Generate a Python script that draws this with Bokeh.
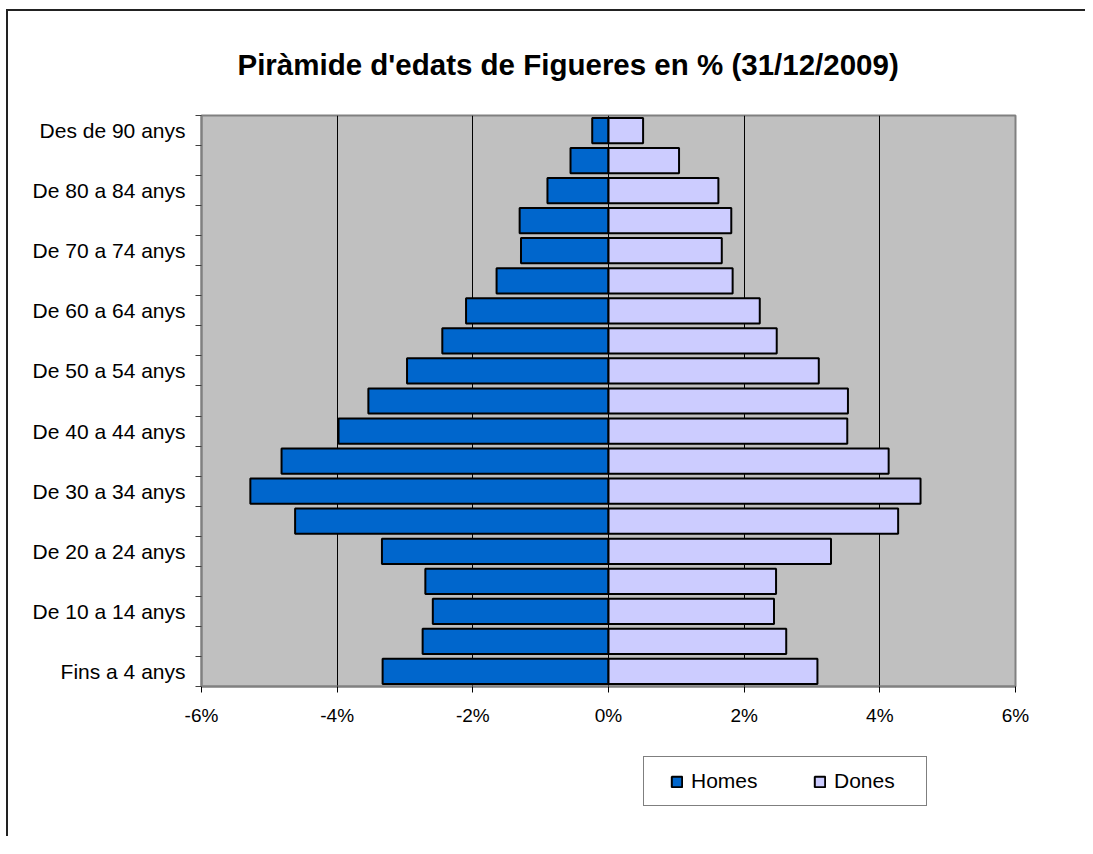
from bokeh.plotting import figure
from bokeh.layouts import column
from bokeh.models import (FixedTicker, PrintfTickFormatter, Legend, LegendItem,
                          ColumnDataSource)
from bokeh.embed import file_html
from bokeh.resources import INLINE

age_groups = [
    "Fins a 4 anys", "De 5 a 9 anys", "De 10 a 14 anys", "De 15 a 19 anys",
    "De 20 a 24 anys", "De 25 a 29 anys", "De 30 a 34 anys", "De 35 a 39 anys",
    "De 40 a 44 anys", "De 45 a 49 anys", "De 50 a 54 anys", "De 55 a 59 anys",
    "De 60 a 64 anys", "De 65 a 69 anys", "De 70 a 74 anys", "De 75 a 79 anys",
    "De 80 a 84 anys", "De 85 a 89 anys", "Des de 90 anys",
]
homes = [3.33, 2.74, 2.59, 2.70, 3.34, 4.62, 5.28, 4.82, 3.98, 3.54,
         2.97, 2.45, 2.10, 1.65, 1.29, 1.31, 0.90, 0.56, 0.24]
dones = [3.08, 2.62, 2.44, 2.47, 3.28, 4.27, 4.60, 4.13, 3.52, 3.53,
         3.10, 2.48, 2.23, 1.83, 1.67, 1.81, 1.62, 1.04, 0.51]
x_ticks = [-6, -4, -2, 0, 2, 4, 6]
series_names = ["Homes", "Dones"]
series_colors = ["#0066CC", "#CCCCFF"]
title_text = "Piràmide d'edats de Figueres en % (31/12/2009)"

FONT = "Liberation Sans"

idx = list(range(len(age_groups)))
neg_homes = [-v for v in homes]
src = ColumnDataSource(dict(y=idx, homes=neg_homes, dones=dones, zero=[0] * len(idx)))

p = figure(width=1077, height=725, x_range=(-6, 6), y_range=(-0.5, len(age_groups) - 0.5),
           output_backend="svg", toolbar_location=None,
           min_border_left=193, min_border_right=70, min_border_top=104, min_border_bottom=50)

p.title.text = title_text
p.title.align = "left"
p.title.offset = 36
p.title.text_font = FONT
p.title.text_font_size = "29.5px"
p.title.text_font_style = "bold"
p.title.text_color = "black"
p.title.standoff = 69

p.background_fill_color = "#C0C0C0"
p.border_fill_color = "white"
p.outline_line_color = "#808080"
p.outline_line_width = 2

r_h = p.hbar(y="y", left="homes", right="zero", height=0.84, source=src,
             fill_color=series_colors[0], line_color="black", line_width=2)
r_d = p.hbar(y="y", left="zero", right="dones", height=0.84, source=src,
             fill_color=series_colors[1], line_color="black", line_width=2)

# x axis
p.xaxis.ticker = FixedTicker(ticks=x_ticks)
p.xaxis.formatter = PrintfTickFormatter(format="%d%%")
p.xaxis.major_label_text_font = FONT
p.xaxis.major_label_text_font_size = "19px"
p.xaxis.major_label_text_color = "black"
p.xaxis.major_tick_in = 0
p.xaxis.major_tick_out = 6
p.xaxis.major_tick_line_color = "black"
p.xaxis.minor_tick_line_color = None
p.xaxis.axis_line_color = "#808080"
p.xaxis.axis_line_width = 2
p.xaxis.major_label_standoff = 12

# y axis
label_ticks = idx[::2]
p.yaxis.ticker = FixedTicker(ticks=label_ticks,
                             minor_ticks=[i - 0.5 for i in idx] + [idx[-1] + 0.5])
p.yaxis.major_label_overrides = {i: age_groups[i] for i in label_ticks}
p.yaxis.major_label_text_font = FONT
p.yaxis.major_label_text_font_size = "21px"
p.yaxis.major_label_text_color = "black"
p.yaxis.major_tick_in = 0
p.yaxis.major_tick_out = 0
p.yaxis.minor_tick_in = 0
p.yaxis.minor_tick_out = 6
p.yaxis.minor_tick_line_color = "#404040"
p.yaxis.axis_line_color = "#808080"
p.yaxis.axis_line_width = 2
p.yaxis.major_label_standoff = 10

p.xgrid.ticker = FixedTicker(ticks=x_ticks)
p.xgrid.grid_line_color = "black"
p.xgrid.grid_line_width = 1
p.ygrid.visible = False

# legend strip below the chart; its renderers hold a single NaN row (nothing drawn)
nan = float("nan")
legend_src = ColumnDataSource(dict(y=[nan], left=[nan], right=[nan]))
lf = figure(width=1077, height=100, x_range=(-6, 6), y_range=(0, 1),
            output_backend="svg", toolbar_location=None,
            min_border=0, min_border_left=0, min_border_right=0,
            min_border_top=0, min_border_bottom=0)
lf.axis.visible = False
lf.grid.visible = False
lf.outline_line_color = None
lf.background_fill_color = "white"
lf.border_fill_color = "white"
lg_h = lf.hbar(y="y", left="left", right="right", height=0.84, source=legend_src,
               fill_color=series_colors[0], line_color="black", line_width=2)
lg_d = lf.hbar(y="y", left="left", right="right", height=0.84, source=legend_src,
               fill_color=series_colors[1], line_color="black", line_width=2)

legend = Legend(items=[LegendItem(label=series_names[0], renderers=[lg_h]),
                       LegendItem(label=series_names[1], renderers=[lg_d])],
                orientation="horizontal", location=(442, 30))
legend.margin = 0
legend.padding = 12
legend.spacing = 42
legend.glyph_width = 13
legend.glyph_height = 13
legend.label_width = 80
legend.label_standoff = 8
legend.label_text_font = FONT
legend.label_text_font_size = "21px"
legend.label_text_color = "black"
legend.title = " "
legend.title_location = "left"
legend.title_standoff = 7
legend.title_text_font = FONT
legend.title_text_font_size = "7px"
legend.border_line_color = "black"
legend.border_line_width = 1
legend.background_fill_color = "white"
legend.background_fill_alpha = 1
lf.add_layout(legend)

layout = column(p, lf, spacing=0)
layout.styles = {"border-left": "2px solid #222222", "border-top": "2px solid #222222",
                 "margin-left": "6px", "margin-top": "9px"}

open("out.html", "w").write(file_html(layout, INLINE))
